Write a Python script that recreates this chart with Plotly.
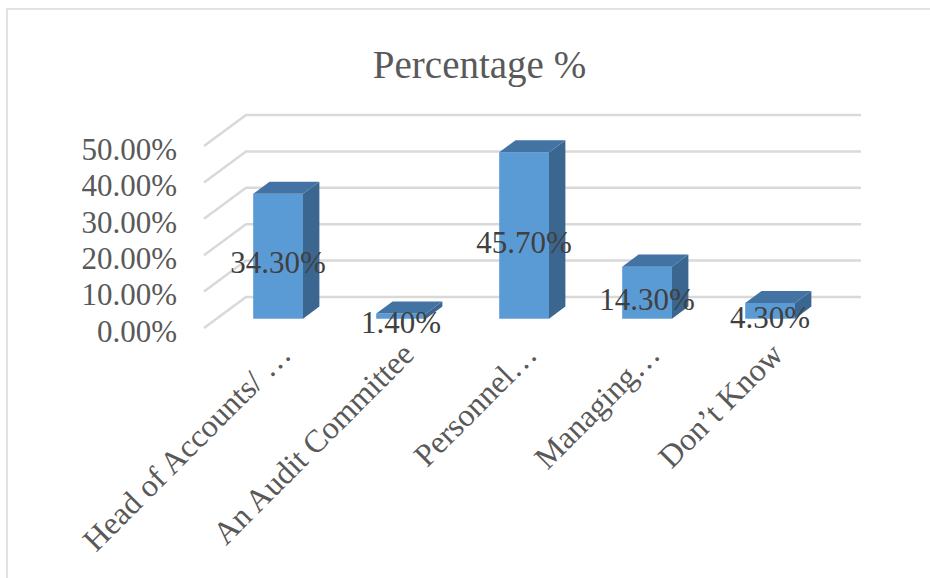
import plotly.graph_objects as go

categories = ["Head of Accounts/ …", "An Audit Committee", "Personnel…", "Managing…", "Don’t Know"]
values = [0.343, 0.014, 0.457, 0.143, 0.043]
tick_values = [0.0, 0.1, 0.2, 0.3, 0.4, 0.5]
title_text = "Percentage %"

# pseudo-3D projection parameters (depth offset of the back wall in data units)
PXX = 123.0          # px per category unit
PXY = 364.0          # px per 1.0 (100%)
DX = 42.0 / PXX      # x shift of the back wall
DY = 31.0 / PXY      # y shift of the back wall
BW = 0.405           # bar width (category units)
D0, D1 = 0.30, 0.69  # bar depth range (fraction of floor depth)
LABEL_SHIFT = 0.13   # category-label anchor offset (category units)

FRONT = "#5B9BD5"
TOP = "#4373A3"
SIDE = "#3B6690"
GRID = "#D9D9D9"

W, H = 930, 578
L, R, T, B = 191, 870, 100, 336  # plot box in pixels
X_FRONT_LEFT_PX, Y_ZERO_PX = 204, 328

xr = [-0.5 - (X_FRONT_LEFT_PX - L) / PXX, -0.5 + (R - X_FRONT_LEFT_PX) / PXX]
yr = [-(B - Y_ZERO_PX) / PXY, (Y_ZERO_PX - T) / PXY]


def P(x, v, d):
    return x + d * DX, v + d * DY


fig = go.Figure()
n = len(categories)

# gridlines: back wall + left wall diagonals (drawn below all traces)
shapes = []
for t in tick_values:
    a = P(-0.5, t, 0)
    b = P(-0.5, t, 1)
    c = P(n - 0.5, t, 1)
    shapes.append(dict(type="path", xref="x", yref="y", layer="below",
                       path=f"M{a[0]},{a[1]} L{b[0]},{b[1]} L{c[0]},{c[1]}",
                       line=dict(color=GRID, width=2.5)))

# border of chart area
shapes.append(dict(type="rect", xref="paper", yref="paper",
                   x0=(7 - L) / (R - L), x1=(W + 20 - L) / (R - L),
                   y0=(B - (H + 20)) / (B - T), y1=(B - 9) / (B - T),
                   line=dict(color=GRID, width=1.5), fillcolor="rgba(0,0,0,0)", layer="below"))

# front faces as real bars
fig.add_trace(go.Bar(x=[i + D0 * DX for i in range(n)], y=values, base=[D0 * DY] * n,
                     width=BW, marker=dict(color=FRONT, line=dict(width=0)), showlegend=False,
                     hoverinfo="skip"))

# bars: side and top faces
for i, v in enumerate(values):
    xl, xrt = i - BW / 2, i + BW / 2
    pts = [P(xrt, 0, D0), P(xrt, 0, D1), P(xrt, v, D1), P(xrt, v, D0)]
    fig.add_trace(go.Scatter(x=[p[0] for p in pts] + [pts[0][0]], y=[p[1] for p in pts] + [pts[0][1]],
                             mode="lines", fill="toself", fillcolor=SIDE, line=dict(width=0, color=SIDE),
                             hoverinfo="skip", showlegend=False))
    pts = [P(xl, v, D0), P(xrt, v, D0), P(xrt, v, D1), P(xl, v, D1)]
    fig.add_trace(go.Scatter(x=[p[0] for p in pts] + [pts[0][0]], y=[p[1] for p in pts] + [pts[0][1]],
                             mode="lines", fill="toself", fillcolor=TOP, line=dict(width=0, color=TOP),
                             hoverinfo="skip", showlegend=False))

# data labels
fig.add_trace(go.Scatter(x=[i + D0 * DX for i in range(n)], y=[v / 2 for v in values], mode="text",
                         text=[f"{v*100:.2f}%" for v in values], textposition="middle center",
                         textfont=dict(family="Liberation Serif", size=31, color="#404040"),
                         hoverinfo="skip", showlegend=False, cliponaxis=False))

fig.update_layout(
    width=W, height=H,
    margin=dict(l=L, r=W - R, t=T, b=H - B, autoexpand=False),
    paper_bgcolor="white", plot_bgcolor="white",
    title=dict(text=title_text, x=479.5 / W, xref="container", xanchor="center",
               y=1 - 64 / H, yref="container", yanchor="middle",
               font=dict(family="Liberation Serif", size=39, color="#595959")),
    xaxis=dict(range=xr, showgrid=False, zeroline=False, showline=False,
               tickmode="array", tickvals=[i + LABEL_SHIFT for i in range(n)], ticktext=categories,
               tickangle=-45, ticks="", ticklabelstandoff=-8,
               tickfont=dict(family="Liberation Serif", size=32, color="#595959")),
    yaxis=dict(range=yr, showgrid=False, zeroline=False, showline=False,
               tickmode="array", tickvals=tick_values, tickformat=".2%", ticks="",
               ticklabelstandoff=13, ticklabelshift=3,
               tickfont=dict(family="Liberation Serif", size=31, color="#595959")),
    shapes=shapes,
)

fig.write_html("out.html")
